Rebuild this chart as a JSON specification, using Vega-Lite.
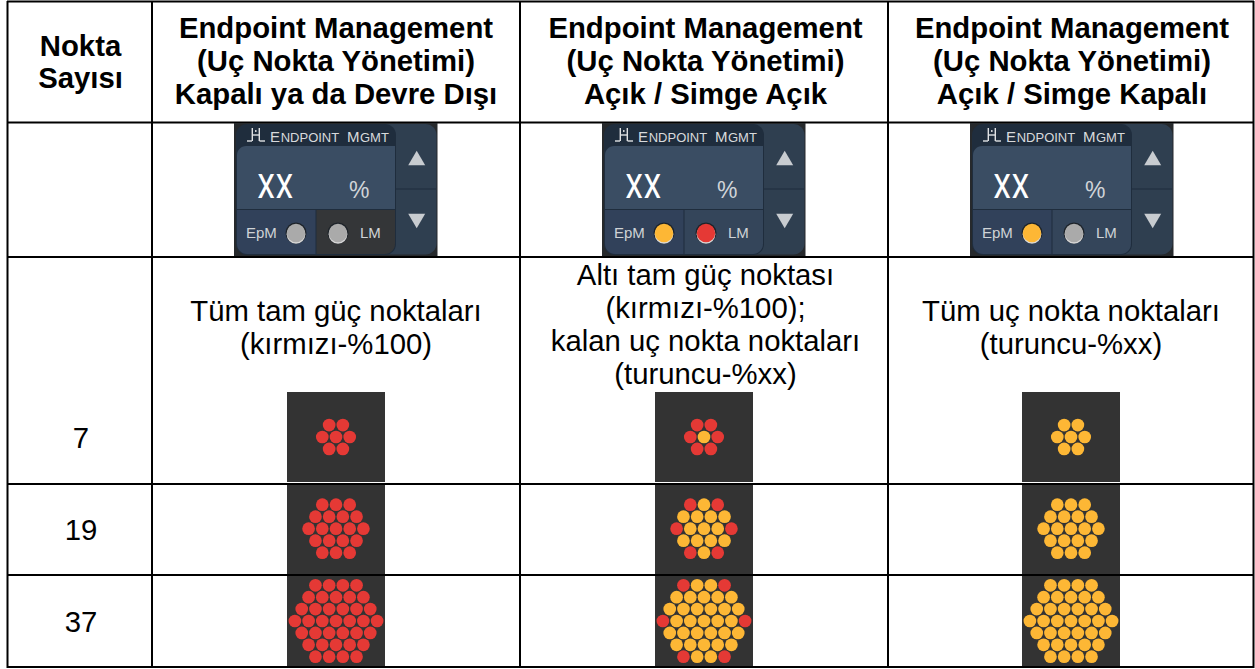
{"$schema":"https://vega.github.io/schema/vega-lite/v6.json","width":1255,"height":669,"padding":0,"autosize":"none","background":"white","config":{"view":{"stroke":null},"text":{"font":"Liberation Sans"}},
"datasets":{
"dots":[
{"x":329.15,"y":425.1,"s":"r"},{"x":342.85,"y":425.1,"s":"r"},{"x":322.3,"y":437,"s":"r"},{"x":336,"y":437,"s":"r"},{"x":349.7,"y":437,"s":"r"},{"x":329.15,"y":448.9,"s":"r"},{"x":342.85,"y":448.9,"s":"r"},
{"x":322.3,"y":504.7,"s":"r"},{"x":336,"y":504.7,"s":"r"},{"x":349.7,"y":504.7,"s":"r"},{"x":315.45,"y":516.7,"s":"r"},{"x":329.15,"y":516.7,"s":"r"},{"x":342.85,"y":516.7,"s":"r"},{"x":356.55,"y":516.7,"s":"r"},{"x":308.6,"y":528.7,"s":"r"},{"x":322.3,"y":528.7,"s":"r"},{"x":336,"y":528.7,"s":"r"},{"x":349.7,"y":528.7,"s":"r"},{"x":363.4,"y":528.7,"s":"r"},{"x":315.45,"y":540.7,"s":"r"},{"x":329.15,"y":540.7,"s":"r"},{"x":342.85,"y":540.7,"s":"r"},{"x":356.55,"y":540.7,"s":"r"},{"x":322.3,"y":552.7,"s":"r"},{"x":336,"y":552.7,"s":"r"},{"x":349.7,"y":552.7,"s":"r"},
{"x":315.45,"y":585.3,"s":"r"},{"x":329.15,"y":585.3,"s":"r"},{"x":342.85,"y":585.3,"s":"r"},{"x":356.55,"y":585.3,"s":"r"},{"x":308.6,"y":597.2,"s":"r"},{"x":322.3,"y":597.2,"s":"r"},{"x":336,"y":597.2,"s":"r"},{"x":349.7,"y":597.2,"s":"r"},{"x":363.4,"y":597.2,"s":"r"},{"x":301.75,"y":609.1,"s":"r"},{"x":315.45,"y":609.1,"s":"r"},{"x":329.15,"y":609.1,"s":"r"},{"x":342.85,"y":609.1,"s":"r"},{"x":356.55,"y":609.1,"s":"r"},{"x":370.25,"y":609.1,"s":"r"},{"x":294.9,"y":621,"s":"r"},{"x":308.6,"y":621,"s":"r"},{"x":322.3,"y":621,"s":"r"},{"x":336,"y":621,"s":"r"},{"x":349.7,"y":621,"s":"r"},{"x":363.4,"y":621,"s":"r"},{"x":377.1,"y":621,"s":"r"},{"x":301.75,"y":632.9,"s":"r"},{"x":315.45,"y":632.9,"s":"r"},{"x":329.15,"y":632.9,"s":"r"},{"x":342.85,"y":632.9,"s":"r"},{"x":356.55,"y":632.9,"s":"r"},{"x":370.25,"y":632.9,"s":"r"},{"x":308.6,"y":644.8,"s":"r"},{"x":322.3,"y":644.8,"s":"r"},{"x":336,"y":644.8,"s":"r"},{"x":349.7,"y":644.8,"s":"r"},{"x":363.4,"y":644.8,"s":"r"},{"x":315.45,"y":656.7,"s":"r"},{"x":329.15,"y":656.7,"s":"r"},{"x":342.85,"y":656.7,"s":"r"},{"x":356.55,"y":656.7,"s":"r"},
{"x":697.15,"y":425.1,"s":"r"},{"x":710.85,"y":425.1,"s":"r"},{"x":690.3,"y":437,"s":"r"},{"x":704,"y":437,"s":"o"},{"x":717.7,"y":437,"s":"r"},{"x":697.15,"y":448.9,"s":"r"},{"x":710.85,"y":448.9,"s":"r"},
{"x":690.3,"y":504.7,"s":"r"},{"x":704,"y":504.7,"s":"o"},{"x":717.7,"y":504.7,"s":"r"},{"x":683.45,"y":516.7,"s":"o"},{"x":697.15,"y":516.7,"s":"o"},{"x":710.85,"y":516.7,"s":"o"},{"x":724.55,"y":516.7,"s":"o"},{"x":676.6,"y":528.7,"s":"r"},{"x":690.3,"y":528.7,"s":"o"},{"x":704,"y":528.7,"s":"o"},{"x":717.7,"y":528.7,"s":"o"},{"x":731.4,"y":528.7,"s":"r"},{"x":683.45,"y":540.7,"s":"o"},{"x":697.15,"y":540.7,"s":"o"},{"x":710.85,"y":540.7,"s":"o"},{"x":724.55,"y":540.7,"s":"o"},{"x":690.3,"y":552.7,"s":"r"},{"x":704,"y":552.7,"s":"o"},{"x":717.7,"y":552.7,"s":"r"},
{"x":683.45,"y":585.3,"s":"r"},{"x":697.15,"y":585.3,"s":"o"},{"x":710.85,"y":585.3,"s":"o"},{"x":724.55,"y":585.3,"s":"r"},{"x":676.6,"y":597.2,"s":"o"},{"x":690.3,"y":597.2,"s":"o"},{"x":704,"y":597.2,"s":"o"},{"x":717.7,"y":597.2,"s":"o"},{"x":731.4,"y":597.2,"s":"o"},{"x":669.75,"y":609.1,"s":"o"},{"x":683.45,"y":609.1,"s":"o"},{"x":697.15,"y":609.1,"s":"o"},{"x":710.85,"y":609.1,"s":"o"},{"x":724.55,"y":609.1,"s":"o"},{"x":738.25,"y":609.1,"s":"o"},{"x":662.9,"y":621,"s":"r"},{"x":676.6,"y":621,"s":"o"},{"x":690.3,"y":621,"s":"o"},{"x":704,"y":621,"s":"o"},{"x":717.7,"y":621,"s":"o"},{"x":731.4,"y":621,"s":"o"},{"x":745.1,"y":621,"s":"r"},{"x":669.75,"y":632.9,"s":"o"},{"x":683.45,"y":632.9,"s":"o"},{"x":697.15,"y":632.9,"s":"o"},{"x":710.85,"y":632.9,"s":"o"},{"x":724.55,"y":632.9,"s":"o"},{"x":738.25,"y":632.9,"s":"o"},{"x":676.6,"y":644.8,"s":"o"},{"x":690.3,"y":644.8,"s":"o"},{"x":704,"y":644.8,"s":"o"},{"x":717.7,"y":644.8,"s":"o"},{"x":731.4,"y":644.8,"s":"o"},{"x":683.45,"y":656.7,"s":"r"},{"x":697.15,"y":656.7,"s":"o"},{"x":710.85,"y":656.7,"s":"o"},{"x":724.55,"y":656.7,"s":"r"},
{"x":1064.15,"y":425.1,"s":"o"},{"x":1077.85,"y":425.1,"s":"o"},{"x":1057.3,"y":437,"s":"o"},{"x":1071,"y":437,"s":"o"},{"x":1084.7,"y":437,"s":"o"},{"x":1064.15,"y":448.9,"s":"o"},{"x":1077.85,"y":448.9,"s":"o"},
{"x":1057.3,"y":504.7,"s":"o"},{"x":1071,"y":504.7,"s":"o"},{"x":1084.7,"y":504.7,"s":"o"},{"x":1050.45,"y":516.7,"s":"o"},{"x":1064.15,"y":516.7,"s":"o"},{"x":1077.85,"y":516.7,"s":"o"},{"x":1091.55,"y":516.7,"s":"o"},{"x":1043.6,"y":528.7,"s":"o"},{"x":1057.3,"y":528.7,"s":"o"},{"x":1071,"y":528.7,"s":"o"},{"x":1084.7,"y":528.7,"s":"o"},{"x":1098.4,"y":528.7,"s":"o"},{"x":1050.45,"y":540.7,"s":"o"},{"x":1064.15,"y":540.7,"s":"o"},{"x":1077.85,"y":540.7,"s":"o"},{"x":1091.55,"y":540.7,"s":"o"},{"x":1057.3,"y":552.7,"s":"o"},{"x":1071,"y":552.7,"s":"o"},{"x":1084.7,"y":552.7,"s":"o"},
{"x":1050.45,"y":585.3,"s":"o"},{"x":1064.15,"y":585.3,"s":"o"},{"x":1077.85,"y":585.3,"s":"o"},{"x":1091.55,"y":585.3,"s":"o"},{"x":1043.6,"y":597.2,"s":"o"},{"x":1057.3,"y":597.2,"s":"o"},{"x":1071,"y":597.2,"s":"o"},{"x":1084.7,"y":597.2,"s":"o"},{"x":1098.4,"y":597.2,"s":"o"},{"x":1036.75,"y":609.1,"s":"o"},{"x":1050.45,"y":609.1,"s":"o"},{"x":1064.15,"y":609.1,"s":"o"},{"x":1077.85,"y":609.1,"s":"o"},{"x":1091.55,"y":609.1,"s":"o"},{"x":1105.25,"y":609.1,"s":"o"},{"x":1029.9,"y":621,"s":"o"},{"x":1043.6,"y":621,"s":"o"},{"x":1057.3,"y":621,"s":"o"},{"x":1071,"y":621,"s":"o"},{"x":1084.7,"y":621,"s":"o"},{"x":1098.4,"y":621,"s":"o"},{"x":1112.1,"y":621,"s":"o"},{"x":1036.75,"y":632.9,"s":"o"},{"x":1050.45,"y":632.9,"s":"o"},{"x":1064.15,"y":632.9,"s":"o"},{"x":1077.85,"y":632.9,"s":"o"},{"x":1091.55,"y":632.9,"s":"o"},{"x":1105.25,"y":632.9,"s":"o"},{"x":1043.6,"y":644.8,"s":"o"},{"x":1057.3,"y":644.8,"s":"o"},{"x":1071,"y":644.8,"s":"o"},{"x":1084.7,"y":644.8,"s":"o"},{"x":1098.4,"y":644.8,"s":"o"},{"x":1050.45,"y":656.7,"s":"o"},{"x":1064.15,"y":656.7,"s":"o"},{"x":1077.85,"y":656.7,"s":"o"},{"x":1091.55,"y":656.7,"s":"o"}
],
"imgbg":[
{"x":287,"x2":385,"y":392,"y2":482},{"x":287,"x2":385,"y":485,"y2":574},{"x":287,"x2":385,"y":576,"y2":666},
{"x":655,"x2":753,"y":392,"y2":482},{"x":655,"x2":753,"y":485,"y2":574},{"x":655,"x2":753,"y":576,"y2":666},
{"x":1022,"x2":1120,"y":392,"y2":482},{"x":1022,"x2":1120,"y":485,"y2":574},{"x":1022,"x2":1120,"y":576,"y2":666}
],
"grid":[
{"x":7,"x2":1254,"y":1.5,"y2":1.5},{"x":7,"x2":1254,"y":122.5,"y2":122.5},{"x":7,"x2":1254,"y":257,"y2":257},{"x":7,"x2":1254,"y":484,"y2":484},{"x":7,"x2":1254,"y":575,"y2":575},{"x":7,"x2":1254,"y":667,"y2":667},
{"x":7.5,"x2":7.5,"y":1,"y2":668},{"x":152,"x2":152,"y":1,"y2":668},{"x":520,"x2":520,"y":1,"y2":668},{"x":888,"x2":888,"y":1,"y2":668},{"x":1253.5,"x2":1253.5,"y":1,"y2":668}
],
"panel":[
{"part":"bg","x":234,"x2":437.5,"y":123,"y2":256},{"part":"bg","x":602,"x2":805.5,"y":123,"y2":256},{"part":"bg","x":970,"x2":1173.5,"y":123,"y2":256},
{"part":"side","x":375,"x2":436.5,"y":124,"y2":254.5},{"part":"side","x":743,"x2":804.5,"y":124,"y2":254.5},{"part":"side","x":1111,"x2":1172.5,"y":124,"y2":254.5},
{"part":"main","x":236,"x2":396,"y":124,"y2":255},{"part":"main","x":604,"x2":764,"y":124,"y2":255},{"part":"main","x":972,"x2":1132,"y":124,"y2":255},
{"part":"display","x":237,"x2":395,"y":146,"y2":209},{"part":"display","x":605,"x2":763,"y":146,"y2":209},{"part":"display","x":973,"x2":1131,"y":146,"y2":209},
{"part":"epm","x":237,"x2":315.5,"y":210,"y2":254},{"part":"epm","x":605,"x2":683.5,"y":210,"y2":254},{"part":"epm","x":973,"x2":1051.5,"y":210,"y2":254},
{"part":"lmoff","x":316.5,"x2":395,"y":210,"y2":254},{"part":"lmon","x":684.5,"x2":763,"y":210,"y2":254},{"part":"lmon","x":1052.5,"x2":1131,"y":210,"y2":254}
],
"tri":[{"x":416.7,"y":158,"shape":"up"},{"x":416.7,"y":221,"shape":"down"},{"x":784.7,"y":158,"shape":"up"},{"x":784.7,"y":221,"shape":"down"},{"x":1152.7,"y":158,"shape":"up"},{"x":1152.7,"y":221,"shape":"down"}],
"sep":[{"x":396,"x2":436,"y":189,"y2":189},{"x":764,"x2":804,"y":189,"y2":189},{"x":1132,"x2":1172,"y":189,"y2":189}],
"icon":[
{"x":252.3,"x2":252.3,"y":128,"y2":141},{"x":259.3,"x2":259.3,"y":128,"y2":141},{"x":252,"x2":260,"y":135,"y2":135},{"x":247,"x2":252,"y":141,"y2":141},{"x":259.5,"x2":265,"y":141,"y2":141},{"x":255.8,"x2":255.8,"y":130,"y2":132},
{"x":620.3,"x2":620.3,"y":128,"y2":141},{"x":627.3,"x2":627.3,"y":128,"y2":141},{"x":620,"x2":628,"y":135,"y2":135},{"x":615,"x2":620,"y":141,"y2":141},{"x":627.5,"x2":633,"y":141,"y2":141},{"x":623.8,"x2":623.8,"y":130,"y2":132},
{"x":988.3,"x2":988.3,"y":128,"y2":141},{"x":995.3,"x2":995.3,"y":128,"y2":141},{"x":988,"x2":996,"y":135,"y2":135},{"x":983,"x2":988,"y":141,"y2":141},{"x":995.5,"x2":1001,"y":141,"y2":141},{"x":991.8,"x2":991.8,"y":130,"y2":132}
],
"lamps":[{"x":296,"y":233,"s":"g"},{"x":338,"y":233,"s":"g"},{"x":664,"y":233,"s":"o"},{"x":706,"y":233,"s":"r"},{"x":1032,"y":233,"s":"o"},{"x":1074,"y":233,"s":"g"}],
"headers":[
{"t":"Nokta","x":80.5,"y":56},{"t":"Sayısı","x":80.5,"y":88},
{"t":"Endpoint Management","x":336,"y":37.5},{"t":"(Uç Nokta Yönetimi)","x":336,"y":70.5},{"t":"Kapalı ya da Devre Dışı","x":336,"y":103.5},
{"t":"Endpoint Management","x":705.5,"y":37.5},{"t":"(Uç Nokta Yönetimi)","x":705.5,"y":70.5},{"t":"Açık / Simge Açık","x":705.5,"y":103.5},
{"t":"Endpoint Management","x":1072,"y":37.5},{"t":"(Uç Nokta Yönetimi)","x":1072,"y":70.5},{"t":"Açık / Simge Kapalı","x":1072,"y":103.5}
],
"body":[
{"t":"Tüm tam güç noktaları","x":336,"y":321},{"t":"(kırmızı-%100)","x":336,"y":354},
{"t":"Altı tam güç noktası","x":705.5,"y":285},{"t":"(kırmızı-%100);","x":705.5,"y":318},{"t":"kalan uç nokta noktaları","x":705.5,"y":351},{"t":"(turuncu-%xx)","x":705.5,"y":384},
{"t":"Tüm uç nokta noktaları","x":1071,"y":321},{"t":"(turuncu-%xx)","x":1071,"y":354},
{"t":"7","x":81,"y":448},{"t":"19","x":81,"y":540},{"t":"37","x":81,"y":632}
],
"capE":[{"t":"E","x":270,"y":142.3},{"t":"M","x":347,"y":142.3},{"t":"E","x":638,"y":142.3},{"t":"M","x":715,"y":142.3},{"t":"E","x":1006,"y":142.3},{"t":"M","x":1083,"y":142.3}],
"capS":[{"t":"NDPOINT","x":280.7,"y":142.3},{"t":"GMT","x":360,"y":142.3},{"t":"NDPOINT","x":648.7,"y":142.3},{"t":"GMT","x":728,"y":142.3},{"t":"NDPOINT","x":1016.7,"y":142.3},{"t":"GMT","x":1096,"y":142.3}],
"xx":[{"t":"XX","x":257,"y":197.7},{"t":"XX","x":625,"y":197.7},{"t":"XX","x":993,"y":197.7}],
"pct":[{"t":"%","x":349,"y":198},{"t":"%","x":717,"y":198},{"t":"%","x":1085,"y":198}],
"labs":[{"t":"EpM","x":246,"y":238},{"t":"LM","x":360,"y":238},{"t":"EpM","x":614,"y":238},{"t":"LM","x":728,"y":238},{"t":"EpM","x":982,"y":238},{"t":"LM","x":1096,"y":238}]
},
"encoding":{"x":{"field":"x","type":"quantitative","axis":null,"scale":{"domain":[0,1255],"nice":false,"zero":false}},"y":{"field":"y","type":"quantitative","axis":null,"scale":{"domain":[669,0],"nice":false,"zero":false}}},
"layer":[
{"data":{"name":"imgbg"},"mark":{"type":"rect","color":"#333333"},"encoding":{"x2":{"field":"x2"},"y2":{"field":"y2"}}},
{"data":{"name":"grid"},"mark":{"type":"rule","color":"#000000","strokeWidth":2},"encoding":{"x2":{"field":"x2"},"y2":{"field":"y2"}}},
{"data":{"name":"dots"},"mark":{"type":"point","filled":true,"opacity":1,"size":161,"strokeWidth":0},"encoding":{"color":{"field":"s","type":"nominal","legend":null,"scale":{"domain":["r","o","g"],"range":["#e53935","#fdb735","#aaaaaa"]}}}},
{"data":{"name":"panel"},"transform":[{"filter":"datum.part=='bg'"}],"mark":{"type":"rect","color":"#26292c"},"encoding":{"x2":{"field":"x2"},"y2":{"field":"y2"}}},
{"data":{"name":"panel"},"transform":[{"filter":"datum.part=='side'"}],"mark":{"type":"rect","color":"#2f3f50","cornerRadius":11},"encoding":{"x2":{"field":"x2"},"y2":{"field":"y2"}}},
{"data":{"name":"panel"},"transform":[{"filter":"datum.part=='main'"}],"mark":{"type":"rect","color":"#1f2d3d","cornerRadius":11},"encoding":{"x2":{"field":"x2"},"y2":{"field":"y2"}}},
{"data":{"name":"panel"},"transform":[{"filter":"datum.part=='display'"}],"mark":{"type":"rect","color":"#3a4d63","cornerRadiusTopLeft":9},"encoding":{"x2":{"field":"x2"},"y2":{"field":"y2"}}},
{"data":{"name":"panel"},"transform":[{"filter":"datum.part=='epm'"}],"mark":{"type":"rect","color":"#31415a","cornerRadiusBottomLeft":10},"encoding":{"x2":{"field":"x2"},"y2":{"field":"y2"}}},
{"data":{"name":"panel"},"transform":[{"filter":"datum.part=='lmoff'"}],"mark":{"type":"rect","color":"#343638","cornerRadiusBottomRight":10},"encoding":{"x2":{"field":"x2"},"y2":{"field":"y2"}}},
{"data":{"name":"panel"},"transform":[{"filter":"datum.part=='lmon'"}],"mark":{"type":"rect","color":"#34455a","cornerRadiusBottomRight":10},"encoding":{"x2":{"field":"x2"},"y2":{"field":"y2"}}},
{"data":{"name":"sep"},"mark":{"type":"rule","color":"#1f2d3d","strokeWidth":1},"encoding":{"x2":{"field":"x2"},"y2":{"field":"y2"}}},
{"data":{"name":"tri"},"transform":[{"filter":"datum.shape=='up'"}],"mark":{"type":"point","shape":"triangle-up","filled":true,"opacity":1,"size":289,"color":"#c8ccd0","strokeWidth":0}},
{"data":{"name":"tri"},"transform":[{"filter":"datum.shape=='down'"}],"mark":{"type":"point","shape":"triangle-down","filled":true,"opacity":1,"size":289,"color":"#c8ccd0","strokeWidth":0}},
{"data":{"name":"icon"},"mark":{"type":"rule","color":"#e0e2e4","strokeWidth":1.4},"encoding":{"x2":{"field":"x2"},"y2":{"field":"y2"}}},
{"data":{"name":"lamps"},"mark":{"type":"point","filled":true,"opacity":1,"size":441,"color":"#1d2329","strokeWidth":0}},
{"data":{"name":"lamps"},"mark":{"type":"point","filled":true,"opacity":1,"size":350,"color":"#d9d9d9","strokeWidth":0,"yOffset":1.3}},
{"data":{"name":"lamps"},"mark":{"type":"point","filled":true,"opacity":1,"size":340,"strokeWidth":0},"encoding":{"color":{"field":"s","type":"nominal","legend":null,"scale":{"domain":["r","o","g"],"range":["#e53935","#fdb735","#aaaaaa"]}}}},
{"data":{"name":"headers"},"mark":{"type":"text","font":"Liberation Sans","fontWeight":"bold","fontSize":29.3,"align":"center","baseline":"alphabetic","color":"#000000"},"encoding":{"text":{"field":"t"}}},
{"data":{"name":"body"},"mark":{"type":"text","font":"Liberation Sans","fontSize":29.3,"align":"center","baseline":"alphabetic","color":"#000000"},"encoding":{"text":{"field":"t"}}},
{"data":{"name":"capE"},"mark":{"type":"text","font":"Liberation Sans","fontSize":15,"align":"left","baseline":"alphabetic","color":"#d8dadc"},"encoding":{"text":{"field":"t"}}},
{"data":{"name":"capS"},"mark":{"type":"text","font":"Liberation Sans","fontSize":13,"align":"left","baseline":"alphabetic","color":"#d8dadc"},"encoding":{"text":{"field":"t"}}},
{"data":{"name":"xx"},"mark":{"type":"text","font":"Roboto Condensed, Open Sans Condensed, Noto Sans Condensed, DejaVu Sans Condensed, sans-serif","fontSize":33,"align":"left","baseline":"alphabetic","color":"#ffffff"},"encoding":{"text":{"field":"t"}}},
{"data":{"name":"pct"},"mark":{"type":"text","font":"Liberation Sans","fontSize":23,"align":"left","baseline":"alphabetic","color":"#d0d4d8"},"encoding":{"text":{"field":"t"}}},
{"data":{"name":"labs"},"mark":{"type":"text","font":"Liberation Sans","fontSize":15,"align":"left","baseline":"alphabetic","color":"#cfd3d6"},"encoding":{"text":{"field":"t"}}}
]}
